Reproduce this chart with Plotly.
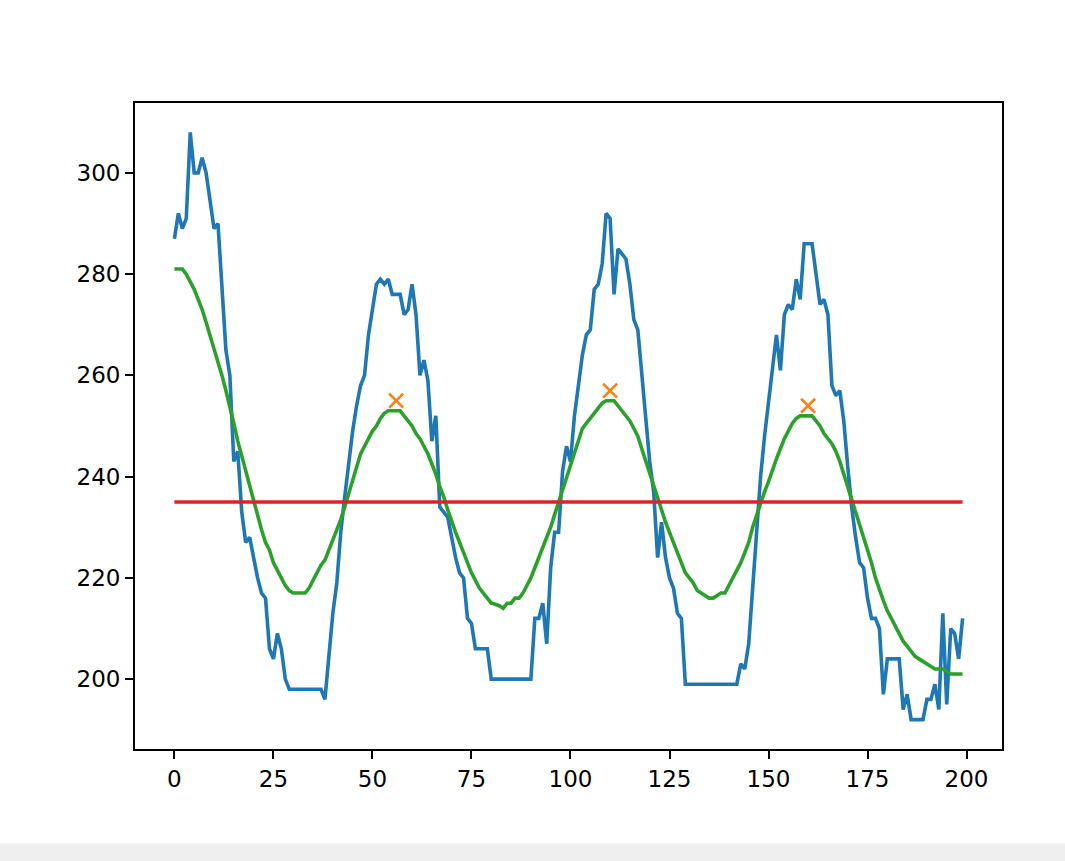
import plotly.graph_objects as go

# ---- data ----
x_idx = list(range(200))

raw_values = [
    287, 292, 289, 291, 308, 300, 300, 303, 300, 295,
    289, 290, 278, 265, 260, 243, 245, 233, 227, 228,
    224, 220, 217, 216, 206, 204, 209, 206, 200, 198,
    198, 198, 198, 198, 198, 198, 198, 198, 196, 204,
    213, 219, 229, 236, 243, 249, 254, 258, 260, 268,
    273, 278, 279, 278, 279, 276, 276, 276, 272, 273,
    278, 272, 260, 263, 259, 247, 252, 234, 233, 232,
    228, 224, 221, 220, 212, 211, 206, 206, 206, 206,
    200, 200, 200, 200, 200, 200, 200, 200, 200, 200,
    200, 212, 212, 215, 207, 222, 229, 229, 241, 246,
    243, 252, 258, 264, 268, 269, 277, 278, 282, 292,
    291, 276, 285, 284, 283, 278, 271, 269, 260, 251,
    243, 237, 224, 231, 224, 220, 218, 213, 212, 199,
    199, 199, 199, 199, 199, 199, 199, 199, 199, 199,
    199, 199, 199, 203, 202, 207, 218, 230, 240, 248,
    255, 262, 268, 261, 272, 274, 273, 279, 275, 286,
    286, 286, 280, 274, 275, 272, 258, 256, 257, 251,
    242, 234, 228, 223, 222, 216, 212, 212, 210, 197,
    204, 204, 204, 204, 194, 197, 192, 192, 192, 192,
    196, 196, 199, 194, 213, 195, 210, 209, 204, 212,
]

smooth_values = [
    281, 281, 281, 280, 278.5, 277, 275, 273, 270.5, 268,
    265.5, 263, 260, 257, 254, 250.5, 247, 244, 241, 238,
    235, 232, 229.5, 227, 225.5, 223, 221.5, 220, 218.5, 217.5,
    217, 217, 217, 217, 218, 219.5, 221, 222.5, 223.5, 225.5,
    227.5, 229.5, 231.5, 234, 236.5, 239.5, 242, 244.5, 246, 247.5,
    249, 250, 251.5, 252.5, 253, 253, 253, 253, 252, 251,
    250, 248.5, 247.5, 246, 244.5, 242.5, 240.5, 238, 236, 233.5,
    231, 229, 227, 225, 223, 221, 219.5, 218, 217, 216,
    215, 214.8, 214.5, 214, 215, 215, 216, 216, 217, 218.5,
    220, 222, 224, 226, 228, 230, 232.5, 235, 237.5, 240,
    242.5, 245, 247.5, 249.5, 250.5, 251.5, 252.5, 253.5, 254.5, 255,
    255, 255, 254, 253, 252, 251, 249.5, 248, 245.5, 243,
    241, 238.5, 236, 233.5, 231, 229, 227, 225, 223, 221,
    220, 219, 217.5, 217, 216.5, 216, 216, 216.5, 217, 217,
    218.5, 220, 221.5, 223, 225, 227, 230, 232.5, 235, 237,
    239, 241.5, 243.5, 245.5, 247.5, 249, 250.5, 251.5, 252, 252,
    252, 252, 251, 250, 248.5, 247.5, 246.5, 245, 243, 240.5,
    238, 235.5, 233, 231, 228, 225.5, 223, 220, 217.5, 215.5,
    213.5, 212, 210.5, 209, 207.5, 206.5, 205.5, 204.5, 204, 203.5,
    203, 202.5, 202, 202, 202, 201.5, 201, 201, 201, 201,
]

peak_x = [56, 110, 160]
peak_y = [255, 257, 254]

threshold = 235

x_ticks = [0, 25, 50, 75, 100, 125, 150, 175, 200]
y_ticks = [200, 220, 240, 260, 280, 300]

# ---- figure ----
fig = go.Figure()
fig.add_trace(go.Scatter(
    x=x_idx, y=raw_values, mode="lines",
    line=dict(color="#1f77b4", width=3.6), hoverinfo="skip"))
fig.add_trace(go.Scatter(
    x=peak_x, y=peak_y, mode="markers",
    marker=dict(symbol="x-thin", size=14, color="#ff7f0e",
                line=dict(color="#ff7f0e", width=2.5)), hoverinfo="skip"))
fig.add_trace(go.Scatter(
    x=x_idx, y=smooth_values, mode="lines",
    line=dict(color="#2ca02c", width=3.6), hoverinfo="skip"))
fig.add_trace(go.Scatter(
    x=[x_idx[0], x_idx[-1]], y=[threshold, threshold], mode="lines",
    line=dict(color="#d62728", width=3.6), hoverinfo="skip"))

axis_common = dict(
    showgrid=False, zeroline=False, showline=True, linecolor="black",
    linewidth=1.8, mirror=True, ticks="outside", ticklen=8, tickwidth=1.8,
    tickcolor="black", tickfont=dict(family="DejaVu Sans", size=23, color="black"),
)

fig.update_layout(
    width=1065, height=861,
    margin=dict(l=135, r=63, t=103, b=112),
    paper_bgcolor="white", plot_bgcolor="white",
    showlegend=False,
    xaxis=dict(range=[-9.95, 208.95], tickvals=x_ticks, **axis_common),
    yaxis=dict(range=[186.2, 313.8], tickvals=y_ticks, **axis_common),
)

# window toolbar band at the bottom of the screenshot
fig.add_shape(type="rect", xref="paper", yref="paper",
              x0=-0.2, x1=1.1, y0=(749 - 843) / 646, y1=(749 - 870) / 646,
              fillcolor="#efefef", line=dict(width=0), layer="below")

fig.write_html("out.html")
